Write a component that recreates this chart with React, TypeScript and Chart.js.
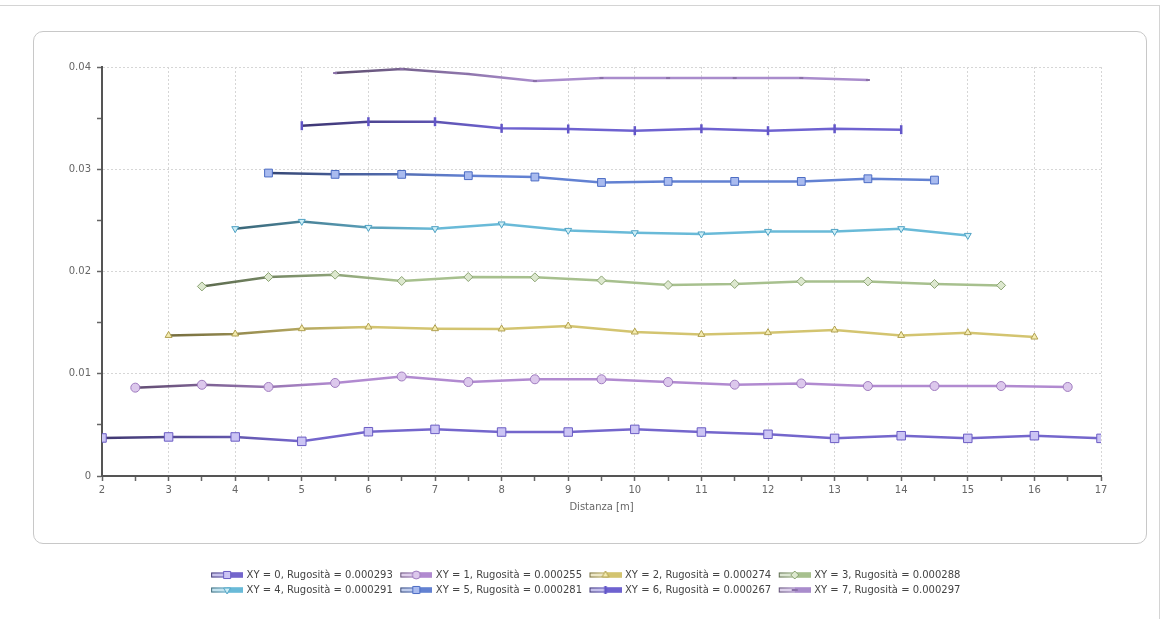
import React, { useEffect, useRef } from 'react';
import { Chart, registerables } from 'chart.js';

Chart.register(...registerables);

// ---------- data ----------
const xy0Dist = [2, 3, 4, 5, 6, 7, 8, 9, 10, 11, 12, 13, 14, 15, 16, 17];
const xy0Val = [0.00372, 0.00382, 0.00382, 0.00339, 0.00433, 0.00456, 0.0043, 0.0043, 0.00456, 0.0043, 0.00408, 0.00368, 0.00394, 0.00368, 0.00394, 0.00368];

const xy1Dist = [2.5, 3.5, 4.5, 5.5, 6.5, 7.5, 8.5, 9.5, 10.5, 11.5, 12.5, 13.5, 14.5, 15.5, 16.5];
const xy1Val = [0.00864, 0.00892, 0.00871, 0.0091, 0.00973, 0.00919, 0.00946, 0.00946, 0.00919, 0.00893, 0.00905, 0.0088, 0.0088, 0.0088, 0.00871];

const xy2Dist = [3, 4, 5, 6, 7, 8, 9, 10, 11, 12, 13, 14, 15, 16];
const xy2Val = [0.01375, 0.01389, 0.01441, 0.01457, 0.01441, 0.01438, 0.01467, 0.01408, 0.01385, 0.01402, 0.01428, 0.01375, 0.01402, 0.01359];

const xy3Dist = [3.5, 4.5, 5.5, 6.5, 7.5, 8.5, 9.5, 10.5, 11.5, 12.5, 13.5, 14.5, 15.5];
const xy3Val = [0.01854, 0.01946, 0.01969, 0.01907, 0.01946, 0.01943, 0.01913, 0.01868, 0.01878, 0.01903, 0.01903, 0.01878, 0.01864];

const xy4Dist = [4, 5, 6, 7, 8, 9, 10, 11, 12, 13, 14, 15];
const xy4Val = [0.02419, 0.0249, 0.02431, 0.02419, 0.02465, 0.02402, 0.02379, 0.02367, 0.02392, 0.02392, 0.02419, 0.02353];

const xy5Dist = [4.5, 5.5, 6.5, 7.5, 8.5, 9.5, 10.5, 11.5, 12.5, 13.5, 14.5];
const xy5Val = [0.02963, 0.0295, 0.0295, 0.02937, 0.02924, 0.02871, 0.02881, 0.02881, 0.02881, 0.02907, 0.02894];

const xy6Dist = [5, 6, 7, 8, 9, 10, 11, 12, 13, 14];
const xy6Val = [0.03426, 0.03465, 0.03465, 0.034, 0.03394, 0.03377, 0.03396, 0.03377, 0.03396, 0.03387];

const xy7Dist = [5.5, 6.5, 7.5, 8.5, 9.5, 10.5, 11.5, 12.5, 13.5];
const xy7Val = [0.03941, 0.0398, 0.03932, 0.03863, 0.03892, 0.03892, 0.03892, 0.03892, 0.03873];

const seriesLabels = [
  'XY = 0, Rugosità = 0.000293',
  'XY = 1, Rugosità = 0.000255',
  'XY = 2, Rugosità = 0.000274',
  'XY = 3, Rugosità = 0.000288',
  'XY = 4, Rugosità = 0.000291',
  'XY = 5, Rugosità = 0.000281',
  'XY = 6, Rugosità = 0.000267',
  'XY = 7, Rugosità = 0.000297',
];

const xAxisTitle = 'Distanza [m]';
const yTickLabels = ['0', '0.01', '0.02', '0.03', '0.04'];

const allDist = [xy0Dist, xy1Dist, xy2Dist, xy3Dist, xy4Dist, xy5Dist, xy6Dist, xy7Dist];
const allVal = [xy0Val, xy1Val, xy2Val, xy3Val, xy4Val, xy5Val, xy6Val, xy7Val];

// ---------- styles ----------
type Mk = 'rect' | 'circle' | 'triangle' | 'triangleDown' | 'rectRot' | 'vline' | 'hline';
const styles: { line: string; fill: string; border: string; mk: Mk; r: number }[] = [
  { line: '#7466cc', fill: '#cbc4f4', border: '#6a5cc4', mk: 'rect', r: 6 },
  { line: '#b18ad0', fill: '#dcc8ec', border: '#9f7bbf', mk: 'circle', r: 4.5 },
  { line: '#d3c470', fill: '#f4ecb0', border: '#b0a050', mk: 'triangle', r: 4 },
  { line: '#a7c08e', fill: '#dde8cf', border: '#8ca474', mk: 'rectRot', r: 4.5 },
  { line: '#69bad8', fill: '#cdeef6', border: '#4fa2c4', mk: 'triangleDown', r: 4 },
  { line: '#6281d2', fill: '#a9bbef', border: '#4c6cc4', mk: 'rect', r: 5.5 },
  { line: '#6e62d0', fill: '#6e62d0', border: '#6256c8', mk: 'vline', r: 4.5 },
  { line: '#a98ccc', fill: '#a98ccc', border: '#8a70a8', mk: 'hline', r: 2 },
];

function mix(hex: string, other: string, t: number) {
  const p = (h: string) => [1, 3, 5].map((i) => parseInt(h.slice(i, i + 2), 16));
  const a = p(hex), b = p(other);
  const c = a.map((v, i) => Math.round(v + (b[i] - v) * t));
  return `rgb(${c[0]},${c[1]},${c[2]})`;
}

function drawMarker(g: CanvasRenderingContext2D, mk: Mk, x: number, y: number, r: number, fill: string, stroke: string) {
  g.save();
  g.fillStyle = fill;
  g.strokeStyle = stroke;
  g.lineWidth = 1;
  g.beginPath();
  if (mk === 'rect') {
    const s = r * Math.SQRT1_2;
    g.rect(x - s, y - s, 2 * s, 2 * s);
  } else if (mk === 'circle') {
    g.arc(x, y, r, 0, Math.PI * 2);
  } else if (mk === 'triangle' || mk === 'triangleDown') {
    const d = mk === 'triangle' ? 1 : -1;
    g.moveTo(x, y - d * r);
    g.lineTo(x + r * 0.866, y + d * r * 0.5);
    g.lineTo(x - r * 0.866, y + d * r * 0.5);
    g.closePath();
  } else if (mk === 'rectRot') {
    g.moveTo(x, y - r);
    g.lineTo(x + r, y);
    g.lineTo(x, y + r);
    g.lineTo(x - r, y);
    g.closePath();
  } else if (mk === 'vline') {
    g.lineWidth = 2.5;
    g.moveTo(x, y - r);
    g.lineTo(x, y + r);
    g.stroke();
    g.restore();
    return;
  } else {
    g.lineWidth = 2;
    g.moveTo(x - r, y);
    g.lineTo(x + r, y);
    g.stroke();
    g.restore();
    return;
  }
  g.fill();
  g.stroke();
  g.restore();
}

function makeIcon(i: number) {
  const st = styles[i];
  const c = document.createElement('canvas');
  c.width = 36;
  c.height = 12;
  const g = c.getContext('2d')!;
  const x0 = 4, x1 = 36, y = 6;
  g.fillStyle = mix(st.line, '#ffffff', 0.6);
  g.fillRect(x0, y - 2.5, x1 - x0, 5);
  const grad = g.createLinearGradient(x0, 0, x1, 0);
  grad.addColorStop(0, mix(st.line, '#000000', 0.45));
  grad.addColorStop(0.55, st.line);
  grad.addColorStop(1, st.line);
  g.strokeStyle = grad;
  g.lineWidth = 1;
  g.strokeRect(x0 + 0.5, y - 2, x1 - x0 - 1, 4);
  g.fillStyle = st.line;
  g.fillRect(x0 + 16, y - 2.5, x1 - x0 - 16, 5);
  const mr = st.mk === 'rect' ? 5 : st.mk === 'hline' ? 3 : Math.min(st.r, 4);
  drawMarker(g, st.mk, x0 + 16, y, mr, st.fill, st.border);
  return c;
}

const pointStyleOf = (mk: Mk) =>
  mk === 'triangleDown' ? 'triangle' : mk === 'vline' || mk === 'hline' ? 'line' : mk;

const isMajor = (v: number, step: number) => Math.abs(v / step - Math.round(v / step)) < 1e-6;

export default function App() {
  const ref = useRef<HTMLCanvasElement>(null);

  useEffect(() => {
    const canvas = ref.current!;
    const icons = styles.map((_, i) => makeIcon(i));

    const datasets = allDist.map((dist, i) => {
      const st = styles[i];
      return {
        label: seriesLabels[i],
        data: dist.map((d, k) => ({ x: d, y: allVal[i][k] })),
        borderColor: (ctx: any) => {
          const chart = ctx.chart;
          const xs = chart.scales && chart.scales.x;
          if (!xs || !chart.chartArea) return st.line;
          const x0 = xs.getPixelForValue(dist[0]);
          const g = chart.ctx.createLinearGradient(x0, 0, x0 + 200, 0);
          g.addColorStop(0, mix(st.line, '#000000', 0.45));
          g.addColorStop(1, st.line);
          return g;
        },
        backgroundColor: st.line,
        borderWidth: 2.5,
        tension: 0,
        fill: false,
        pointStyle: pointStyleOf(st.mk),
        pointRotation: st.mk === 'triangleDown' ? 180 : st.mk === 'vline' ? 90 : 0,
        pointRadius: st.r,
        pointHoverRadius: st.r,
        pointBackgroundColor: st.fill,
        pointBorderColor: st.border,
        pointBorderWidth: st.mk === 'vline' ? 2.5 : st.mk === 'hline' ? 2 : 1,
      };
    });

    const legendWrap = {
      id: 'legendWrap',
      beforeUpdate(chart: any) {
        const lg = chart.legend;
        if (lg && !lg._wrapPatched) {
          const orig = lg.update.bind(lg);
          lg.update = (w: number, h: number, m: any) => orig(Math.min(w, 850), h, m);
          lg._wrapPatched = true;
        }
      },
    };

    Chart.defaults.font.family = "'DejaVu Sans', Verdana, sans-serif";

    const chart = new Chart(canvas, {
      type: 'line',
      data: { datasets: datasets as any },
      plugins: [legendWrap],
      options: {
        responsive: false,
        animation: false,
        devicePixelRatio: 1,
        layout: { padding: { left: 68, right: 65, top: 67, bottom: 14 } },
        plugins: {
          tooltip: { enabled: false },
          legend: {
            position: 'bottom',
            labels: {
              usePointStyle: true,
              pointStyleWidth: 33,
              padding: 5,
              color: '#444',
              font: { size: 10 },
              generateLabels: (ch: any) =>
                ch.data.datasets.map((ds: any, i: number) => ({
                  text: ds.label,
                  pointStyle: icons[i],
                  fillStyle: 'rgba(0,0,0,0)',
                  strokeStyle: 'rgba(0,0,0,0)',
                  lineWidth: 0,
                  hidden: false,
                  datasetIndex: i,
                  fontColor: '#444',
                })),
            },
          },
        },
        scales: {
          x: {
            type: 'linear',
            min: 2,
            max: 17,
            afterFit: (s: any) => {
              s.height = 89;
            },
            ticks: {
              stepSize: 0.5,
              autoSkip: false,
              maxRotation: 0,
              padding: 3,
              color: '#666',
              font: { size: 10 },
              callback: (v: any) => (isMajor(Number(v), 1) ? String(v) : ''),
            },
            grid: {
              color: (ctx: any) =>
                ctx.tick && isMajor(ctx.tick.value, 1) ? '#d6d6d6' : 'rgba(0,0,0,0)',
              lineWidth: 1,
              tickColor: '#666',
              tickLength: 5,
              tickWidth: 1.5,
            },
            border: { display: true, color: '#555', width: 2, dash: [2, 2] },
            title: {
              display: true,
              text: xAxisTitle,
              color: '#666',
              font: { size: 10 },
              padding: { top: 0, bottom: 52 },
            },
          },
          y: {
            type: 'linear',
            min: 0,
            max: 0.04,
            afterFit: (s: any) => {
              s.width = 34;
            },
            ticks: {
              stepSize: 0.005,
              padding: 6,
              color: '#666',
              font: { size: 10 },
              callback: (v: any) => {
                const n = Number(v);
                if (!isMajor(n, 0.01)) return '';
                return yTickLabels[Math.round(n / 0.01)] ?? '';
              },
            },
            grid: {
              color: (ctx: any) =>
                ctx.tick && isMajor(ctx.tick.value, 0.01) ? '#d6d6d6' : 'rgba(0,0,0,0)',
              lineWidth: 1,
              tickColor: '#666',
              tickLength: 5,
              tickWidth: 1.5,
            },
            border: { display: true, color: '#555', width: 2, dash: [2, 2] },
          },
        },
      },
    });

    return () => chart.destroy();
  }, []);

  return (
    <div style={{ position: 'absolute', left: 0, top: 0, width: 1166, height: 619, background: '#fff', overflow: 'hidden' }}>
      <div
        style={{
          position: 'absolute',
          left: -2,
          top: 5,
          width: 1161,
          height: 700,
          borderTop: '1px solid #d4d4d4',
          borderRight: '1px solid #d4d4d4',
        }}
      />
      <div
        style={{
          position: 'absolute',
          left: 33,
          top: 31,
          width: 1112,
          height: 511,
          border: '1px solid #c8c8c8',
          borderRadius: 10,
        }}
      />
      <canvas
        ref={ref}
        width={1166}
        height={619}
        style={{ position: 'absolute', left: 0, top: 0, width: 1166, height: 619 }}
      />
    </div>
  );
}
